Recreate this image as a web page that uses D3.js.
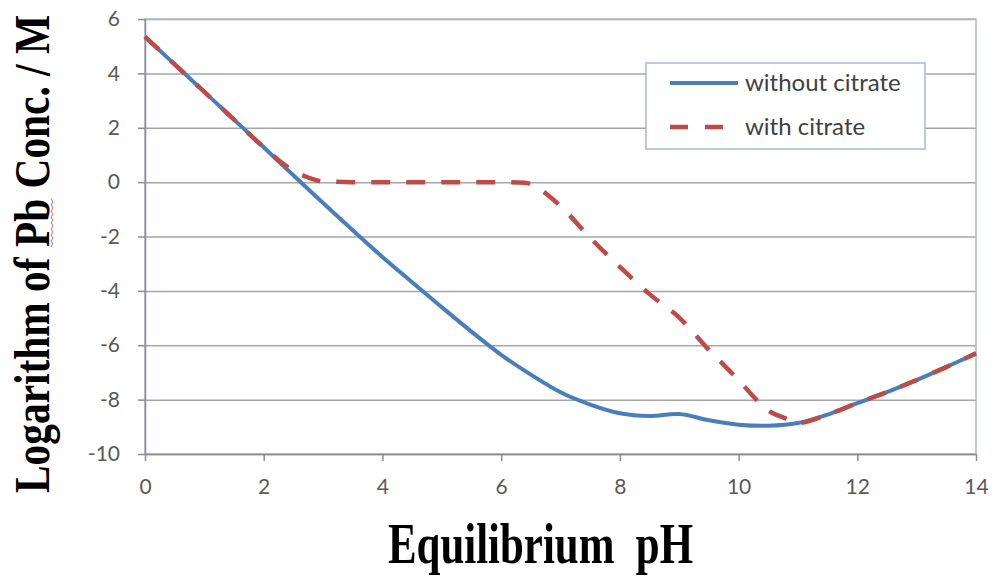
<!DOCTYPE html>
<html>
<head>
<meta charset="utf-8">
<script src="https://cdn.jsdelivr.net/npm/d3@7"></script>
<style>
  html, body { margin: 0; padding: 0; background: #fff; }
  svg { display: block; }
</style>
</head>
<body>
<div id="chart"></div>
<script>
// pH sample points and log[Pb]
var phWithout = [0, 0.5, 1, 1.5, 2, 2.5, 3, 3.5, 4, 4.5, 5, 5.5, 6, 6.5, 7, 7.5, 8, 8.5, 9, 9.5, 10, 10.5, 11, 11.5, 12, 12.5, 13, 13.5, 14];
var logWithout = [5.35, 4.33, 3.32, 2.3, 1.28, 0.25, -0.77, -1.77, -2.75, -3.68, -4.6, -5.5, -6.35, -7.08, -7.73, -8.18, -8.5, -8.6, -8.53, -8.76, -8.92, -8.96, -8.86, -8.55, -8.13, -7.72, -7.28, -6.8, -6.3];

var phWith = [0, 0.5, 1, 1.5, 2, 2.3, 2.5, 2.75, 3, 3.5, 4, 5, 6, 6.4, 6.6, 6.8, 7, 7.5, 8, 8.5, 9, 9.5, 10, 10.3, 10.5, 10.8, 11, 11.5, 12, 12.5, 13, 13.5, 14];
var logWith = [5.35, 4.33, 3.32, 2.3, 1.28, 0.72, 0.42, 0.17, 0.03, 0, 0, 0, 0, -0.02, -0.18, -0.5, -0.88, -2.05, -3.12, -4.12, -4.98, -6.17, -7.28, -8.0, -8.4, -8.7, -8.86, -8.55, -8.13, -7.72, -7.28, -6.8, -6.3];

var seriesNames = ["without citrate", "with citrate"];
var xTicks = [0, 2, 4, 6, 8, 10, 12, 14];
var yTicks = [6, 4, 2, 0, -2, -4, -6, -8, -10];

var width = 995, height = 576;
var plotLeft = 145, plotRight = 976, plotTop = 19, plotBottom = 454;

var blue = "#4a7ebb", red = "#be4b48";
var tickFont = "Lato, 'Open Sans', sans-serif";

var svg = d3.select("#chart").append("svg")
  .attr("width", width)
  .attr("height", height);

var x = d3.scaleLinear().domain([0, 14]).range([plotLeft, plotRight]);
var y = d3.scaleLinear().domain([-10, 6]).range([plotBottom, plotTop]);

/*
 * Gridlines.
 */
svg.append("g")
  .attr("transform", "translate(" + plotLeft + ",0)")
  .call(d3.axisLeft(y).tickValues(yTicks).tickSize(-(plotRight - plotLeft)).tickFormat(""))
  .call(function(g) {
    g.select(".domain").remove();
    g.selectAll("line").attr("stroke", "#a6a6a6").attr("stroke-width", 1.5);
  });

/*
 * Plot area border (top and right show).
 */
svg.append("rect")
  .attr("x", plotLeft)
  .attr("y", plotTop)
  .attr("width", plotRight - plotLeft)
  .attr("height", plotBottom - plotTop)
  .attr("fill", "none")
  .attr("stroke", "#a9b8d4")
  .attr("stroke-width", 1.5);

/*
 * Axes (plain hyphen for negatives, as in the original).
 */
svg.append("g")
  .attr("transform", "translate(" + plotLeft + ",0)")
  .call(d3.axisLeft(y).tickValues(yTicks).tickSize(7).tickSizeOuter(0).tickPadding(18)
    .tickFormat(function(d) { return String(d); }))
  .call(function(g) {
    g.select(".domain").attr("stroke", "#8c8c8c").attr("stroke-width", 1.5);
    g.selectAll("line").attr("stroke", "#8c8c8c").attr("stroke-width", 1.5);
    g.selectAll("text")
      .attr("font-family", tickFont)
      .attr("font-size", 21)
      .attr("fill", "#595959");
  });

svg.append("g")
  .attr("transform", "translate(0," + plotBottom + ")")
  .call(d3.axisBottom(x).tickValues(xTicks).tickSize(7).tickSizeOuter(0).tickPadding(18)
    .tickFormat(function(d) { return String(d); }))
  .call(function(g) {
    g.select(".domain").attr("stroke", "#8c8c8c").attr("stroke-width", 1.5);
    g.selectAll("line").attr("stroke", "#8c8c8c").attr("stroke-width", 1.5);
    g.selectAll("text")
      .attr("font-family", tickFont)
      .attr("font-size", 21)
      .attr("fill", "#595959");
  });

/*
 * Lines.
 */
var lineWithout = d3.line()
  .x(function(d, i) { return x(phWithout[i]); })
  .y(function(d) { return y(d); })
  .curve(d3.curveCatmullRom.alpha(0.5));

var lineWith = d3.line()
  .x(function(d, i) { return x(phWith[i]); })
  .y(function(d) { return y(d); })
  .curve(d3.curveMonotoneX);

svg.append("path")
  .attr("d", lineWithout(logWithout))
  .attr("fill", "none")
  .attr("stroke", blue)
  .attr("stroke-width", 4);

svg.append("path")
  .attr("d", lineWith(logWith))
  .attr("fill", "none")
  .attr("stroke", red)
  .attr("stroke-width", 4.5)
  .attr("stroke-dasharray", "19,16");

/*
 * Legend.
 */
var legend = svg.append("g");
legend.append("rect")
  .attr("x", 646).attr("y", 63)
  .attr("width", 279).attr("height", 86)
  .attr("fill", "#fff")
  .attr("stroke", "#a9b8d4")
  .attr("stroke-width", 1.5);

var items = legend.selectAll(".item")
  .data(seriesNames)
  .enter().append("g")
  .attr("class", "item")
  .attr("transform", function(d, i) { return "translate(0," + (83 + i * 44) + ")"; });

items.append("line")
  .attr("x1", 670).attr("x2", 738)
  .attr("stroke", function(d, i) { return i === 0 ? blue : red; })
  .attr("stroke-width", function(d, i) { return i === 0 ? 4 : 4.5; })
  .attr("stroke-dasharray", function(d, i) { return i === 0 ? null : "18,17"; });

items.append("text")
  .attr("x", 745)
  .attr("y", 8)
  .attr("font-family", tickFont)
  .attr("font-size", 24)
  .attr("fill", "#404040")
  .text(function(d) { return d; });

/*
 * Axis titles.
 */
svg.append("text")
  .attr("x", 388)
  .attr("y", 563)
  .attr("font-family", "'Liberation Serif', 'Times New Roman', serif")
  .attr("font-weight", "bold")
  .attr("font-size", 56)
  .attr("textLength", 305)
  .attr("lengthAdjust", "spacingAndGlyphs")
  .style("white-space", "pre")
  .attr("fill", "#000")
  .text("Equilibrium  pH");

svg.append("text")
  .attr("transform", "translate(49,493) rotate(-90)")
  .attr("font-family", "'Liberation Serif', 'Times New Roman', serif")
  .attr("font-weight", "bold")
  .attr("font-size", 51)
  .attr("textLength", 478)
  .attr("lengthAdjust", "spacingAndGlyphs")
  .attr("fill", "#000")
  .text("Logarithm of Pb Conc. / M");

// spell-check squiggle under "Pb"
var squiggle = d3.range(0, 51, 3).map(function(t, i) { return [51 + (i % 2 ? 2 : 0), 247 - t]; });
svg.append("path")
  .attr("d", d3.line()(squiggle))
  .attr("fill", "none")
  .attr("stroke", "#e06060")
  .attr("stroke-width", 1);
</script>
</body>
</html>
